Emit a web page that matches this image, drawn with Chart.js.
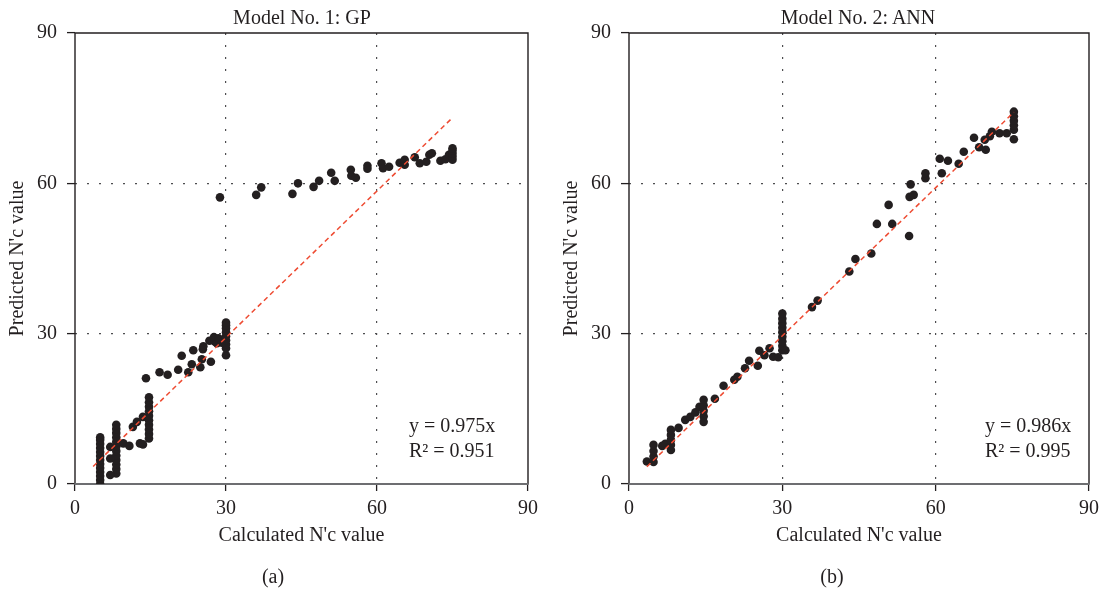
<!DOCTYPE html>
<html><head><meta charset="utf-8">
<script src="https://cdn.jsdelivr.net/npm/chart.js@4"></script>
<style>
html,body{margin:0;padding:0;background:#fff;}
body{width:1108px;height:591px;position:relative;overflow:hidden;font-family:"Liberation Serif","DejaVu Serif",serif;color:#231f20;}
.cw{position:absolute;top:0;width:554px;height:591px;}
.t{position:absolute;font-size:20px;line-height:1;white-space:nowrap;}
.c{transform:translateX(-50%);}
</style></head><body>
<div class="cw" style="left:0"><canvas id="c1"></canvas></div>
<div class="cw" style="left:554px"><canvas id="c2"></canvas></div>
<div class="t c" style="left:302px;top:7px">Model No. 1: GP</div>
<div class="t c" style="left:858px;top:7px">Model No. 2: ANN</div>
<div class="t" style="left:409px;top:415px">y = 0.975x</div>
<div class="t" style="left:409px;top:440px">R² = 0.951</div>
<div class="t" style="left:985px;top:415px">y = 0.986x</div>
<div class="t" style="left:985px;top:440px">R² = 0.995</div>
<div class="t c" style="left:273px;top:566px">(a)</div>
<div class="t c" style="left:832px;top:566px">(b)</div>
<script>
const tickValues = [0, 30, 60, 90];
const xTitle = "Calculated N'c value";
const yTitle = "Predicted N'c value";

// Model No. 1: GP  [calculated, predicted]
const gpPoints = [
  [5,0],[5,0.8],[5,1.6],[5,2.4],[5,3.2],[5,4.0],[5,4.8],[5,5.6],[5,6.4],[5,7.2],[5,8.0],[5,8.8],[5,9.3],
  [8.2,2.1],[8.2,3.0],[8.2,3.9],[8.2,4.8],[8.2,5.7],[8.2,6.6],[8.2,7.5],[8.2,8.4],[8.2,9.3],[8.2,10.2],[8.2,11.0],[8.2,11.8],
  [7.0,1.8],[7.0,5.1],[7.0,7.4],
  [9.6,8.1],[10.8,7.6],[11.5,11.4],[12.3,12.4],[12.9,8.1],[13.5,7.9],[13.5,13.4],
  [14.7,9.1],[14.7,10.0],[14.7,10.9],[14.7,11.8],[14.7,12.7],[14.7,13.6],[14.7,14.5],[14.7,15.4],[14.7,16.3],[14.7,17.3],
  [14.1,21.1],[16.8,22.3],[18.4,21.8],[20.5,22.8],[21.2,25.6],[22.5,22.3],[23.2,23.9],[23.5,26.7],[24.9,23.3],[25.2,24.9],
  [25.4,26.9],[25.5,27.5],[26.7,28.6],[27.0,24.4],[27.8,28.4],[27.6,29.3],[28.2,28.1],[28.5,29.1],[29.2,28.2],
  [30,25.7],[30,27.1],[30,27.9],[30,28.7],[30,29.5],[30,30.3],[30,31.1],[30,31.7],[30,32.2],
  [28.8,57.2],[36.0,57.7],[37.0,59.2],[43.2,57.9],[44.3,60.0],[47.4,59.3],[48.5,60.5],[50.9,62.1],[51.6,60.5],
  [54.8,62.7],[54.9,61.5],[55.8,61.1],[58.1,63.5],[58.1,62.9],[60.9,64.0],[61.2,63.0],[62.4,63.3],[64.5,64.1],
  [65.5,63.7],[65.5,64.7],[67.5,65.2],[68.5,64.0],[69.8,64.3],[70.4,65.7],[70.9,66.0],[72.6,64.5],[73.6,64.8],[74.3,65.7],
  [75,64.7],[75,65.3],[75,65.9],[75,66.5],[75,67.0]
];
const gpFitX = [3.6, 75];
const gpFitY = [3.5, 73.1];

// Model No. 2: ANN  [calculated, predicted]
const annPoints = [
  [3.5,4.5],[4.8,4.4],[4.8,5.5],[4.8,6.6],[4.8,7.8],[6.5,7.6],[7.1,8.0],
  [8.2,6.8],[8.2,7.8],[8.2,8.8],[8.2,9.8],[8.2,10.8],
  [9.7,11.2],[11.0,12.8],[12.0,13.4],[13.0,14.3],[13.8,15.4],
  [14.6,12.4],[14.6,13.5],[14.6,14.6],[14.6,15.7],[14.6,16.8],
  [16.8,17.0],[18.5,19.6],[20.6,20.8],[21.2,21.4],[22.7,23.1],[23.5,24.6],[25.2,23.6],[25.5,26.6],[26.5,25.7],
  [27.5,27.1],[28.2,25.4],[29.2,25.3],
  [30,26.7],[30,27.6],[30,28.5],[30,29.4],[30,30.3],[30,31.2],[30,32.1],[30,33.0],[30,34.0],[30.6,26.7],
  [35.8,35.3],[36.9,36.6],[43.1,42.4],[44.3,44.9],[47.4,46.0],[48.5,51.9],[50.8,55.7],[51.5,51.9],[54.8,49.5],
  [54.9,57.3],[55.7,57.7],[55.1,59.8],[58.0,61.0],[58.0,62.0],[60.8,64.9],[61.2,62.0],[62.4,64.5],[64.5,63.9],
  [65.5,66.3],[67.5,69.1],[68.5,67.2],[69.6,68.7],[69.8,66.7],[70.6,69.4],[71.0,70.3],[72.5,70.0],[73.9,70.0],
  [75.3,68.8],[75.3,70.7],[75.3,71.6],[75.3,72.5],[75.3,73.4],[75.3,74.3]
];
const annFitX = [3.5, 75.3];
const annFitY = [3.45, 74.2];

const FONT = '"Liberation Serif", "DejaVu Serif", serif';
const INK = '#231f20';

const framePlugin = {
  id: 'frame',
  beforeDatasetsDraw(chart) {
    const {ctx, chartArea: a} = chart;
    ctx.save();
    ctx.strokeStyle = INK;
    ctx.lineWidth = 1.4;
    ctx.beginPath();
    ctx.moveTo(a.left, a.bottom);
    ctx.lineTo(a.left, a.top);
    ctx.lineTo(a.right, a.top);
    ctx.lineTo(a.right, a.bottom);
    ctx.stroke();
    ctx.strokeStyle = '#6d6e71';
    ctx.lineWidth = 2;
    ctx.beginPath();
    ctx.moveTo(a.left - 0.7, a.bottom);
    ctx.lineTo(a.right + 0.7, a.bottom);
    ctx.stroke();
    ctx.restore();
  }
};

function gridColor(c) {
  const v = c.tick ? c.tick.value : null;
  return (v === 30 || v === 60) ? '#4d4d4f' : 'rgba(0,0,0,0)';
}

function makeChart(id, points, fitX, fitY, rightPad) {
  return new Chart(document.getElementById(id), {
    type: 'scatter',
    data: {
      datasets: [
        {
          type: 'line',
          data: fitX.map((x, i) => ({x: x, y: fitY[i]})),
          borderColor: '#ee4b32', borderWidth: 1.5, borderDash: [5, 3.5],
          pointRadius: 0, fill: false, order: 0
        },
        {
          data: points.map(p => ({x: p[0], y: p[1]})),
          backgroundColor: INK, borderColor: INK, borderWidth: 0,
          pointRadius: 4.3, order: 1
        }
      ]
    },
    options: {
      responsive: true, maintainAspectRatio: false, animation: false,
      layout: {padding: {left: 0, top: 33, right: rightPad, bottom: 30}},
      plugins: {legend: {display: false}, tooltip: {enabled: false}},
      scales: {
        x: {
          type: 'linear', position: 'bottom', min: 0, max: 90,
          afterBuildTicks: s => { s.ticks = tickValues.map(v => ({value: v})); },
          afterFit: s => { s.height = 77; },
          ticks: {font: {family: FONT, size: 20, lineHeight: 1}, color: INK, padding: 8, maxRotation: 0, autoSkip: false},
          grid: {color: gridColor, lineWidth: 1.2, tickColor: INK, tickLength: 7, tickWidth: 1.3, tickBorderDash: []},
          border: {display: false, dash: [2, 10]},
          title: {display: true, text: xTitle, font: {family: FONT, size: 20, lineHeight: 1.2}, color: INK, padding: {top: 0, bottom: 13}}
        },
        y: {
          type: 'linear', position: 'left', min: 0, max: 90,
          afterBuildTicks: s => { s.ticks = tickValues.map(v => ({value: v})); },
          afterFit: s => { s.width = 75; },
          ticks: {font: {family: FONT, size: 20, lineHeight: 1}, color: INK, padding: 10},
          grid: {color: gridColor, lineWidth: 1.2, tickColor: INK, tickLength: 8, tickWidth: 1.3, tickBorderDash: []},
          border: {display: false, dash: [2, 10]},
          title: {display: true, text: yTitle, font: {family: FONT, size: 20, lineHeight: 1.2}, color: INK, padding: {top: 5.5, bottom: 0}}
        }
      }
    },
    plugins: [framePlugin]
  });
}

makeChart('c1', gpPoints, gpFitX, gpFitY, 26);
makeChart('c2', annPoints, annFitX, annFitY, 19);
</script>
</body></html>
